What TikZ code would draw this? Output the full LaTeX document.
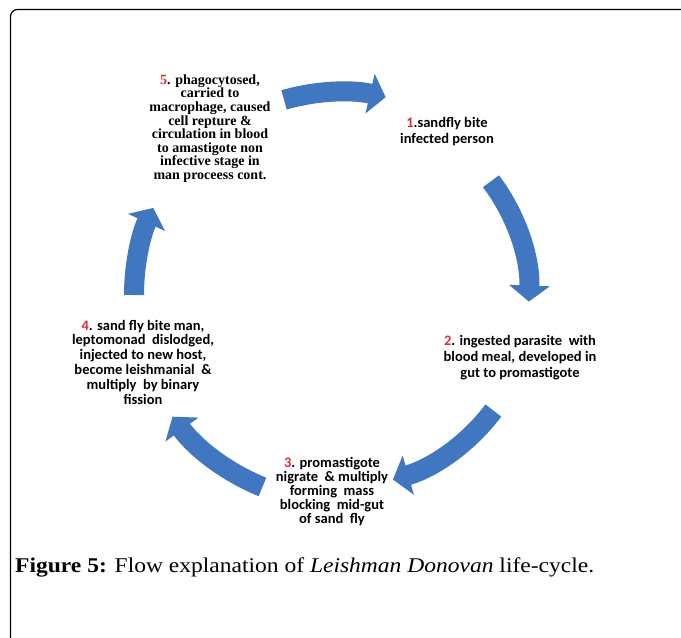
\documentclass[tikz,border=0pt]{standalone}
\usepackage{fontspec}
\setmainfont{Liberation Serif}
\newfontfamily\calibri{Carlito}
\newfontfamily\cambria{Liberation Serif}
\newfontfamily\capfont{Liberation Serif}[FakeStretch=1.12]
\usetikzlibrary{calc, arrows.meta}
\definecolor{cycleblue}{RGB}{65,118,192}
\definecolor{numred}{RGB}{215,45,60}
\tikzstyle{stage} = [align=center,inner sep=0pt,outer sep=0pt]
\tikzstyle{cyclearrow} = [draw=cycleblue,line width=20pt,-{Triangle[length=16pt,width=40pt]}]
\newcommand{\stepno}[1]{{\color{numred}#1}.}

\begin{document}
\begin{tikzpicture}[x=1pt,y=1pt]
		\useasboundingbox (0,0) rectangle (681,638);
		\draw[line width=1.2pt,rounded corners=7pt] (10.5,-10) |- (700,628.5);

		\coordinate (hub) at (340,343);

		\node[stage,font=\cambria\bfseries\fontsize{14}{13.6}\selectfont] (s5) at (210,509.5) {\stepno{5} phagocytosed,\\carried to\\macrophage, caused\\cell repture \&\\circulation in blood\\to amastigote non\\infective stage in\\man proceess cont.};
		\node[stage,font=\calibri\bfseries\fontsize{14.5}{16}\selectfont] (s1) at (447,506.5) {\stepno{1}sandfly bite\\infected person};
		\node[stage,font=\calibri\bfseries\fontsize{14.5}{16}\selectfont] (s2) at (520,280.5) {\stepno{2} ingested parasite\ \ with\\blood meal, developed in\\gut to promastigote};
		\node[stage,font=\calibri\bfseries\fontsize{14.5}{14}\selectfont] (s3) at (332,146) {\stepno{3} promastigote\\nigrate\ \ \& multiply\\forming\ \ mass\\blocking\ \ mid-gut\\of sand\ \ fly};
		\node[stage,font=\calibri\bfseries\fontsize{14.5}{14.8}\selectfont] (s4) at (143,276) {\stepno{4} sand fly bite man,\\leptomonad\ \ dislodged,\\injected to new host,\\become leishmanial\ \ \&\\multiply\ \ by binary\\fission};

		\coordinate (a51) at ($(hub)+(106:203)$);
		\coordinate (a12) at ($(hub)+(37:189)$);
		\coordinate (a23) at ($(hub)+(-37:192)$);
		\coordinate (a34) at ($(hub)+(248:207)$);
		\coordinate (a45) at ($(hub)+(180:206)$);

		\draw[cyclearrow] (a51) arc[start angle=106,end angle=77,radius=203];
		\draw[cyclearrow] (a12) arc[start angle=37,end angle=-2,radius=189];
		\draw[cyclearrow] (a23) arc[start angle=-37,end angle=-74,radius=192];
		\draw[cyclearrow] (a34) arc[start angle=248,end angle=216,radius=207];
		\draw[cyclearrow] (a45) arc[start angle=180,end angle=155,radius=206];

		\node[anchor=base west,inner sep=0pt,font=\capfont\fontsize{21}{24}\selectfont] (cap) at (15,65) {\textbf{Figure 5:} Flow explanation of \textit{Leishman Donovan} life-cycle.};
	\end{tikzpicture}
\end{document}
